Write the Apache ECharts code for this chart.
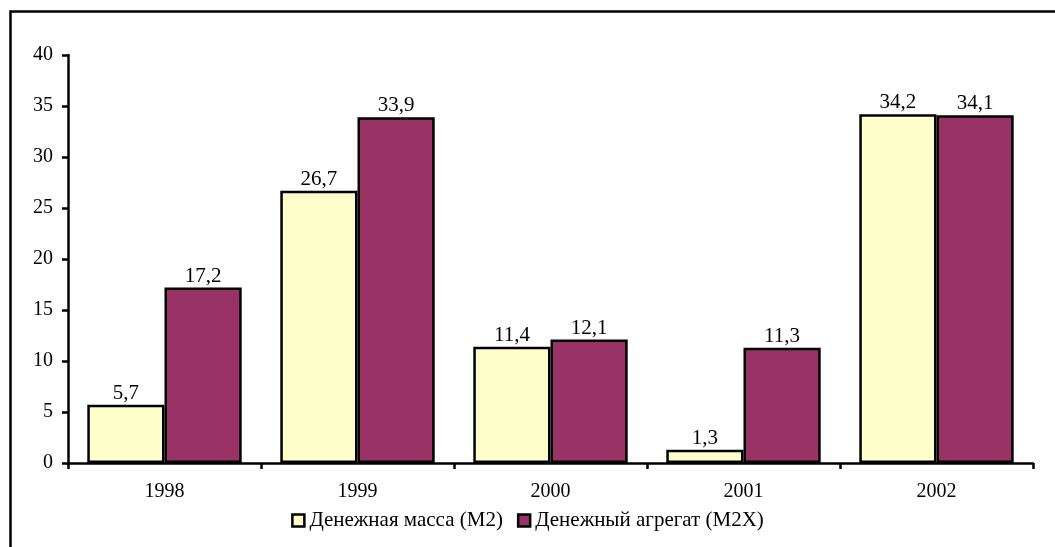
<!DOCTYPE html>
<html>
<head>
<meta charset="utf-8">
<script src="https://cdn.jsdelivr.net/npm/echarts@6/dist/echarts.min.js"></script>
<style>html,body{margin:0;padding:0;background:#fff}#c{width:1055px;height:547px}</style>
</head>
<body>
<div id="c"></div>
<script>
const categories = ['1998', '1999', '2000', '2001', '2002'];
const seriesNames = ['Денежная масса (М2)', 'Денежный агрегат (М2Х)'];
const m2 = [5.7, 26.7, 11.4, 1.3, 34.2];
const m2x = [17.2, 33.9, 12.1, 11.3, 34.1];
const colors = ['#FFFFCC', '#993366'];

const chart = echarts.init(document.getElementById('c'), null, {renderer: 'canvas'});
const font = '"Liberation Serif", "Times New Roman", serif';
const fmt = p => String(p.value).replace('.', ',');
function mk(name, data, color) {
  return {
    name, type: 'bar', data,
    barGap: '0%', barCategoryGap: '20%',
    itemStyle: {color, borderColor: '#000', borderWidth: 2.5},
    label: {show: true, position: 'top', distance: 1, formatter: fmt, color: '#000', fontFamily: font, fontSize: 21}
  };
}
chart.setOption({
  animation: false,
  textStyle: {fontFamily: font},
  graphic: [{type: 'rect', shape: {x: 10.5, y: 11.5, width: 1100, height: 600}, style: {fill: 'none', stroke: '#000', lineWidth: 2.5}, silent: true}],
  grid: {left: 68, right: 22, top: 55, bottom: 84, containLabel: false},
  legend: {
    bottom: 11, left: 'center', itemWidth: 12, itemHeight: 12, itemGap: 14,
    icon: 'rect',
    itemStyle: {borderColor: '#000', borderWidth: 2.5},
    textStyle: {fontFamily: font, fontSize: 21, color: '#000'},
    data: seriesNames
  },
  xAxis: {
    type: 'category', data: categories,
    axisLine: {lineStyle: {color: '#000', width: 2.5}},
    axisTick: {show: true, length: 6, lineStyle: {color: '#000', width: 2.5}},
    axisLabel: {color: '#000', fontSize: 20, fontFamily: font, margin: 19}
  },
  yAxis: {
    type: 'value', min: 0, max: 40, interval: 5,
    axisLine: {show: true, lineStyle: {color: '#000', width: 2.5}},
    axisTick: {show: true, length: 6, lineStyle: {color: '#000', width: 2.5}},
    splitLine: {show: false},
    axisLabel: {color: '#000', fontSize: 20, fontFamily: font, margin: 15}
  },
  series: [mk(seriesNames[0], m2, colors[0]), mk(seriesNames[1], m2x, colors[1])]
});
</script>
</body>
</html>
